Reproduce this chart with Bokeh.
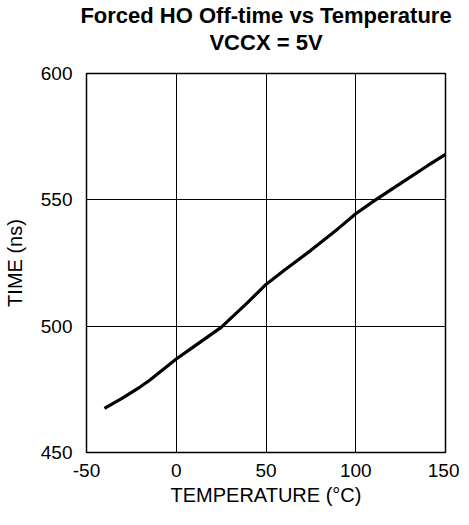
from bokeh.plotting import figure
from bokeh.embed import file_html
from bokeh.resources import INLINE
from bokeh.models import Range1d, FixedTicker, Title

temp_c = [-40, -30, -20, -15, 0, 10, 25, 40, 50, 60, 75, 90, 100, 110, 125, 140, 150]
time_ns = [467.5, 471.5, 476, 478.5, 487, 492, 499.5, 509.5, 516.5, 522, 530, 538.5, 544.5, 549.5, 556.5, 563.5, 568]
x_ticks = [-50, 0, 50, 100, 150]
y_ticks = [450, 500, 550, 600]
title_lines = ["Forced HO Off-time vs Temperature", "VCCX = 5V"]

p = figure(frame_width=359, frame_height=379, output_backend="svg", toolbar_location=None,
           x_range=Range1d(-50, 150), y_range=Range1d(450, 600),
           min_border_left=85, min_border_right=14, min_border_top=10, min_border_bottom=60)

p.title.visible = False
# spacer between the title block and the plot frame
p.add_layout(Title(text=" ", text_font_size="16px", standoff=0, offset=0), "above")
# add lower line first so that it sits closest to the plot
for txt in reversed(title_lines):
    t = Title(text=txt, align="center", text_font="Liberation Sans", text_font_style="bold",
              text_font_size="22px", text_color="black", offset=0, standoff=0)
    p.add_layout(t, "above")

p.line(temp_c, time_ns, line_color="black", line_width=3.2)

for ax in (p.xaxis, p.yaxis):
    ax.axis_line_color = None
    ax.major_tick_line_color = None
    ax.minor_tick_line_color = None
    ax.major_label_text_font = "Liberation Sans"
    ax.major_label_text_font_size = "19px"
    ax.major_label_text_color = "black"
    ax.axis_label_text_font = "Liberation Sans"
    ax.axis_label_text_font_size = "20px"
    ax.axis_label_text_font_style = "normal"
    ax.axis_label_text_color = "black"

p.xaxis.ticker = FixedTicker(ticks=x_ticks)
p.yaxis.ticker = FixedTicker(ticks=y_ticks)
p.xaxis.major_label_overrides = {-50: "-50"}
p.xaxis.axis_label = "TEMPERATURE (°C)"
p.yaxis.axis_label = "TIME (ns)"
p.xaxis.major_label_standoff = 5
p.yaxis.major_label_standoff = 8
p.xaxis.axis_label_standoff = 4
p.yaxis.axis_label_standoff = 12

p.xgrid.grid_line_color = "black"
p.ygrid.grid_line_color = "black"
p.xgrid.grid_line_width = 1
p.ygrid.grid_line_width = 1
p.xgrid.grid_line_alpha = 1
p.ygrid.grid_line_alpha = 1

p.outline_line_color = "black"
p.outline_line_width = 1.5
p.outline_line_alpha = 1
p.background_fill_color = "white"
p.border_fill_color = "white"

open("out.html", "w").write(file_html(p, INLINE))
